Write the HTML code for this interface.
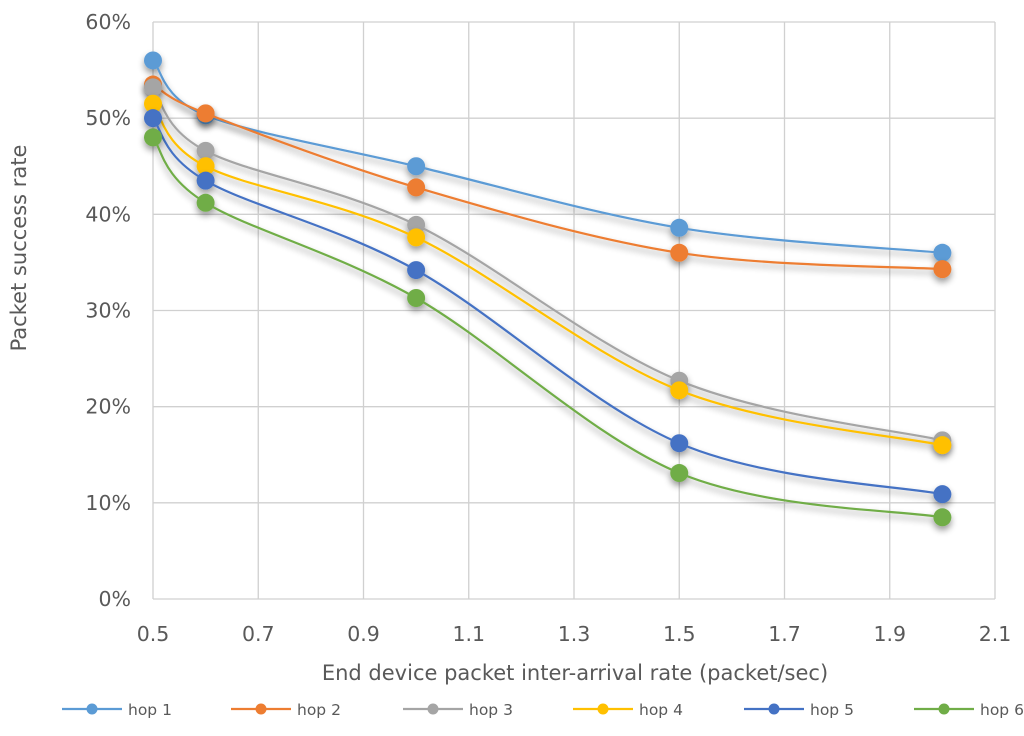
<!DOCTYPE html>
<html><head><meta charset="utf-8"><style>
body{margin:0;background:#fff;font-family:"DejaVu Sans",sans-serif}
svg text{font-family:"DejaVu Sans","Liberation Sans",sans-serif;fill:#595959}
</style></head><body>
<svg width="1024" height="732">
<defs><filter id="sh" x="-10%" y="-10%" width="120%" height="130%"><feGaussianBlur in="SourceAlpha" stdDeviation="3.5"/><feOffset dx="0" dy="4"/><feComponentTransfer><feFuncA type="linear" slope="0.4"/></feComponentTransfer><feMerge><feMergeNode/><feMergeNode in="SourceGraphic"/></feMerge></filter></defs>
<g id="grid"></g>
<g id="series"></g>
<g id="axes"></g>
<text x="575" y="680" text-anchor="middle" font-size="21">End device packet inter-arrival rate (packet/sec)</text>
<text transform="translate(26,248) rotate(-90)" text-anchor="middle" font-size="21">Packet success  rate</text>
<g id="legend"></g>
</svg>
<script>
const xs=[0.5,0.6,1.0,1.5,2.0];
const names=["hop 1","hop 2","hop 3","hop 4","hop 5","hop 6"];
const colors=["#5b9bd5","#ed7d31","#a5a5a5","#ffc000","#4472c4","#70ad47"];
const hop1=[56,50.3,45,38.6,36];
const hop2=[53.5,50.5,42.8,36,34.3];
const hop3=[53.2,46.6,38.9,22.7,16.5];
const hop4=[51.5,45,37.6,21.7,16];
const hop5=[50,43.5,34.2,16.2,10.9];
const hop6=[48,41.2,31.3,13.1,8.5];
const allSeries=[hop1,hop2,hop3,hop4,hop5,hop6];
const xTicks=[0.5,0.7,0.9,1.1,1.3,1.5,1.7,1.9,2.1];
const yTicks=[0,10,20,30,40,50,60];
const NS="http://www.w3.org/2000/svg";
const X0=153,X1=995,Y0=599,Y1=22;
const sx=v=>X0+(v-0.5)/1.6*(X1-X0);
const sy=v=>Y0-v/60*(Y0-Y1);
function mk(t,a,p){const e=document.createElementNS(NS,t);for(const k in a)e.setAttribute(k,a[k]);p.appendChild(e);return e;}
const grid=document.getElementById('grid'),axes=document.getElementById('axes');
xTicks.forEach(t=>{const l=mk('line',{x1:sx(t),x2:sx(t),y1:Y1,y2:Y0,stroke:'#d0d0d0','stroke-width':1.3},grid);

const tx=mk('text',{x:sx(t),y:Y0+42,'text-anchor':'middle','font-size':20.5},axes);tx.textContent=t.toFixed(1);
});
yTicks.forEach(t=>{const l=mk('line',{x1:X0,x2:X1,y1:sy(t),y2:sy(t),stroke:'#d0d0d0','stroke-width':1.3},grid);

const tx=mk('text',{x:X0-22,y:sy(t)+7,'text-anchor':'end','font-size':20.5},axes);tx.textContent=t+'%';
});
function path(pts){let d=`M${pts[0][0]},${pts[0][1]}`;for(let i=0;i<pts.length-1;i++){const p0=pts[i-1]||pts[i],p1=pts[i],p2=pts[i+1],p3=pts[i+2]||p2;const t=0.5/3*2;
d+=` C${p1[0]+(p2[0]-p0[0])*t/2},${p1[1]+(p2[1]-p0[1])*t/2} ${p2[0]-(p3[0]-p1[0])*t/2},${p2[1]-(p3[1]-p1[1])*t/2} ${p2[0]},${p2[1]}`;}return d;}
const sg=document.getElementById('series');
allSeries.forEach((s,i)=>{const g=mk('g',{filter:'url(#sh)'},sg);

const pts=s.map((v,j)=>[sx(xs[j]),sy(v)]);
const p=mk('path',{d:path(pts),fill:'none',stroke:colors[i],'stroke-width':2.2},g);

pts.forEach(q=>{const c=mk('circle',{cx:q[0],cy:q[1],r:9,fill:colors[i]},g);
});});
const lg=document.getElementById('legend');
const lx=[62,231,403,573,744,914];
names.forEach((n,i)=>{const g=mk('g',{},lg);
mk('line',{x1:lx[i],x2:lx[i]+60,y1:709,y2:709,stroke:colors[i],'stroke-width':2.2},g);
mk('circle',{cx:lx[i]+30,cy:709,r:5.5,fill:colors[i]},g);
const t=mk('text',{x:lx[i]+66,y:715,'font-size':15.5},g);t.textContent=n;});
</script>
</body></html>
